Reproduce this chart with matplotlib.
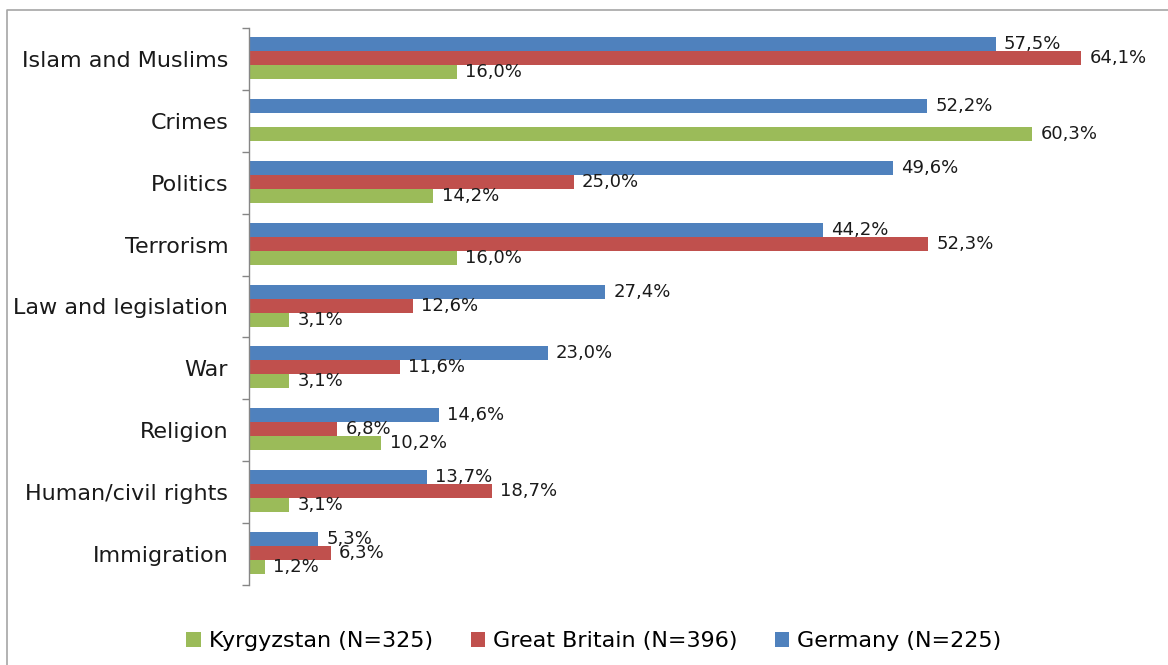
import numpy as np
import matplotlib.pyplot as plt
from matplotlib.lines import Line2D

categories = ["Islam and Muslims", "Crimes", "Politics", "Terrorism",
              "Law and legislation", "War", "Religion", "Human/civil rights",
              "Immigration"]
germany = [57.5, 52.2, 49.6, 44.2, 27.4, 23.0, 14.6, 13.7, 5.3]
britain = [64.1, np.nan, 25.0, 52.3, 12.6, 11.6, 6.8, 18.7, 6.3]
kyrgyzstan = [16.0, 60.3, 14.2, 16.0, 3.1, 3.1, 10.2, 3.1, 1.2]

series = [
    ("Germany (N=225)", germany, "#4F81BD", -1),
    ("Great Britain (N=396)", britain, "#C0504D", 0),
    ("Kyrgyzstan (N=325)", kyrgyzstan, "#9BBB59", 1),
]

fig = plt.figure(figsize=(11.68, 6.65), dpi=100)
ax = fig.add_axes([249 / 1168, 80 / 665, 909 / 1168, 557 / 665])

y = np.arange(len(categories))
h = 0.226
bars = {}
for name, vals, color, k in series:
    vals = np.array(vals, dtype=float)
    ok = ~np.isnan(vals)
    b = ax.barh(y[ok] + k * h - 0.015, vals[ok], height=h, color=color, label=name)
    bars[name] = b
    for yy, v in zip(y[ok] + k * h - 0.015, vals[ok]):
        ax.annotate(f"{v:.1f}%".replace(".", ","), (v, yy),
                    xytext=(6, 0), textcoords="offset points",
                    va="center", ha="left", fontsize=13, color="#1a1a1a")

ax.set_xlim(0, 70)
ax.set_ylim(len(categories) - 0.5, -0.5)

# ticks between categories, labels at centers
ax.set_yticks(np.arange(-0.5, len(categories), 1.0))
ax.set_yticklabels([])
ax.set_yticks(y, minor=True)
ax.set_yticklabels(categories, minor=True, fontsize=16, color="#1a1a1a")
ax.tick_params(axis="y", which="major", length=5, color="#868686", width=1)
ax.tick_params(axis="y", which="minor", length=0, pad=15)
ax.set_xticks([])

for s in ["top", "right", "bottom"]:
    ax.spines[s].set_visible(False)
ax.spines["left"].set_color("#868686")
ax.spines["left"].set_linewidth(1)

# chart border (only top and left edges are inside the picture)
fx = 7 / 1168
fy = 1 - 10 / 665
fig.add_artist(Line2D([fx, fx, 1.01], [-0.01, fy, fy], transform=fig.transFigure,
                      color="#a6a6a6", linewidth=1.2))

handles = [bars["Kyrgyzstan (N=325)"], bars["Great Britain (N=396)"], bars["Germany (N=225)"]]
labels = ["Kyrgyzstan (N=325)", "Great Britain (N=396)", "Germany (N=225)"]
fig.legend(handles, labels, loc="center", bbox_to_anchor=(594 / 1168, 24 / 665),
           ncol=3, frameon=False, handlelength=0.64, handleheight=0.64,
           handletextpad=0.36, columnspacing=1.7,
           prop={"family": "DejaVu Sans", "size": 16})

fig.savefig("out.png", dpi=100)
